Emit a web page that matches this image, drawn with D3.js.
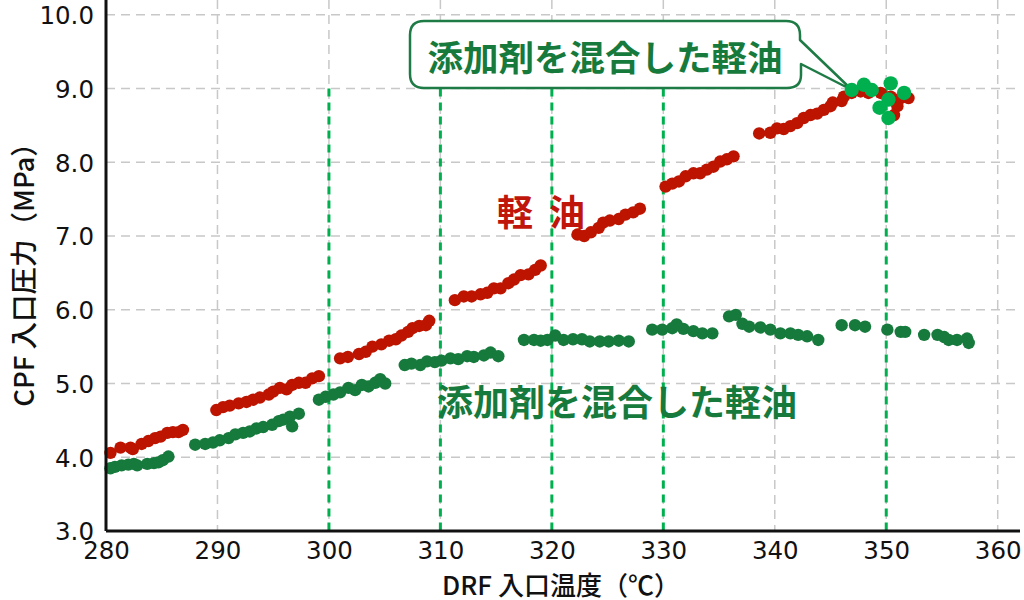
<!DOCTYPE html>
<html>
<head>
<meta charset="utf-8">
<script src="https://cdn.jsdelivr.net/npm/d3@7"></script>
<style>
  body { margin: 0; background: #fff; }
  svg { display: block; font-family: "Noto Sans CJK JP", "Noto Sans", sans-serif; }
</style>
</head>
<body>
<svg id="chart" width="1024" height="600"></svg>
<script>
'use strict'

// 軽油 (light oil)
const oilTemp = [
  280.4, 281.3, 282.2, 282.4, 283.2, 283.8, 284.4, 284.9, 285.5, 286.0, 286.5, 286.9,
  289.9, 290.5, 291.1, 291.9, 292.6, 293.2, 293.8, 294.6, 295.0, 295.6, 296.2, 296.7, 297.3, 297.9, 298.5, 299.1,
  301.0, 301.7, 302.7, 303.3, 303.9, 304.7, 305.4, 306.0, 306.5, 307.1, 307.5, 308.1, 308.7, 309.0,
  311.3, 312.1, 312.8, 313.6, 314.2, 314.8, 315.4, 316.1, 316.6, 317.2, 317.9, 318.5, 319.0,
  322.3, 322.9, 323.5, 324.2, 324.6, 325.2, 326.0, 326.6, 327.3, 327.9,
  330.2, 330.8, 331.4, 332.0, 332.7, 333.3, 333.9, 334.5, 335.1, 335.7, 336.3,
  338.6, 339.6, 340.2, 340.8, 341.4, 342.0, 342.6, 343.2, 343.8, 344.4, 345.0, 345.2, 346.0, 346.2,
  346.9, 347.7, 348.4, 349.5, 350.4, 351.3, 352.0, 351.0, 350.7
]
const oilPressure = [
  4.06, 4.13, 4.13, 4.11, 4.18, 4.22, 4.26, 4.28, 4.33, 4.34, 4.34, 4.37,
  4.64, 4.68, 4.70, 4.73, 4.75, 4.78, 4.81, 4.85, 4.89, 4.94, 4.92, 4.98, 5.01, 5.01, 5.07, 5.10,
  5.34, 5.36, 5.40, 5.43, 5.50, 5.53, 5.58, 5.60, 5.65, 5.70, 5.75, 5.78, 5.79, 5.85,
  6.13, 6.18, 6.18, 6.21, 6.23, 6.29, 6.29, 6.36, 6.41, 6.47, 6.48, 6.54, 6.60,
  7.02, 7.00, 7.05, 7.11, 7.18, 7.21, 7.23, 7.29, 7.32, 7.37,
  7.67, 7.71, 7.74, 7.81, 7.85, 7.85, 7.90, 7.94, 8.01, 8.04, 8.08,
  8.39, 8.40, 8.46, 8.45, 8.49, 8.53, 8.60, 8.64, 8.66, 8.71, 8.76, 8.81, 8.83, 8.89,
  8.94, 8.96, 8.94, 8.94, 8.89, 8.87, 8.87, 8.76, 8.64
]

// 添加剤を混合した軽油 (oil with additive)
const mixTemp = [
  280.4, 280.8, 281.4, 282.0, 282.5, 282.8, 283.7, 284.3, 284.7, 285.1, 285.6,
  288.0, 288.9, 289.6, 290.2, 291.0, 291.6, 292.3, 292.9, 293.5, 294.1, 294.9, 295.5, 295.9, 296.5, 297.3, 296.7,
  299.1, 299.7, 300.4, 301.0, 301.75, 302.35, 302.95, 303.55, 304.15, 304.6, 305.05,
  306.8, 307.4, 308.2, 308.8, 309.5, 310.1, 310.9, 311.6, 312.4, 313.0, 313.9, 314.5, 315.2,
  317.5, 318.4, 319.0, 319.6, 320.3, 321.05, 321.9, 322.7, 323.4, 324.3, 325.1, 326.0, 326.9,
  329.0, 329.9, 330.8, 331.2, 331.8, 332.7, 333.5, 334.4,
  335.9, 336.5, 337.1, 337.7, 338.7, 339.6, 340.5, 341.4, 342.1, 342.9, 343.9,
  346.0, 347.2, 348.1, 350.1, 351.3, 351.7, 353.4, 354.6, 355.2, 355.6, 356.35, 357.25, 357.4
]
const mixPressure = [
  3.85, 3.87, 3.89, 3.90, 3.91, 3.89, 3.91, 3.92, 3.93, 3.96, 4.01,
  4.17, 4.18, 4.20, 4.23, 4.26, 4.31, 4.33, 4.35, 4.39, 4.41, 4.44, 4.49, 4.51, 4.55, 4.59, 4.42,
  4.78, 4.82, 4.85, 4.88, 4.94, 4.91, 4.98, 4.96, 5.01, 5.06, 5.00,
  5.25, 5.27, 5.25, 5.30, 5.29, 5.31, 5.34, 5.33, 5.37, 5.36, 5.38, 5.42, 5.37,
  5.59, 5.59, 5.58, 5.59, 5.65, 5.59, 5.60, 5.60, 5.57, 5.57, 5.57, 5.58, 5.57,
  5.73, 5.73, 5.75, 5.80, 5.74, 5.71, 5.68, 5.68,
  5.91, 5.93, 5.81, 5.77, 5.76, 5.73, 5.68, 5.68, 5.66, 5.64, 5.59,
  5.79, 5.79, 5.77, 5.73, 5.70, 5.70, 5.66, 5.66, 5.63, 5.59, 5.59, 5.61, 5.55
]

// highlighted group near 350 ℃
const hiTemp = [346.9, 348.0, 348.7, 350.4, 351.6, 350.2, 349.4, 350.2]
const hiPressure = [8.98, 9.05, 8.98, 9.07, 8.94, 8.85, 8.74, 8.60]

const xTicks = [280, 290, 300, 310, 320, 330, 340, 350, 360]
const yTicks = [3, 4, 5, 6, 7, 8, 9, 10]
const markTemps = [300, 310, 320, 330, 350]   // green dashed markers
const markTop = 9.0

const svg = d3.select('#chart')
const x = d3.scaleLinear().domain([280, 362]).range([106, 1020])
const y = d3.scaleLinear().domain([3, 10.2]).range([531, 0])

const RED = '#bd1400'
const GREEN = '#177a3d'
const LIME = '#00b04f'

// grid
const grid = svg.append('g')
  .attr('stroke', '#c8c8c8')
  .attr('stroke-width', 1.5)
  .attr('stroke-dasharray', '9,6')
grid.selectAll('.gx').data(xTicks.slice(1))
  .join('line')
  .attr('x1', d => x(d)).attr('x2', d => x(d))
  .attr('y1', 0).attr('y2', y(3))
grid.selectAll('.gy').data(yTicks.slice(1))
  .join('line')
  .attr('x1', x(280)).attr('x2', x(362))
  .attr('y1', d => y(d)).attr('y2', d => y(d))

// green dashed markers
svg.append('g')
  .attr('stroke', LIME)
  .attr('stroke-width', 3)
  .attr('stroke-dasharray', '8,6')
  .selectAll('line').data(markTemps)
  .join('line')
  .attr('x1', d => x(d)).attr('x2', d => x(d))
  .attr('y1', y(markTop)).attr('y2', y(3))

// points
const zip = (a, b) => a.map((v, i) => [v, b[i]])
svg.append('g').attr('fill', RED)
  .selectAll('circle').data(zip(oilTemp, oilPressure))
  .join('circle')
  .attr('cx', d => x(d[0])).attr('cy', d => y(d[1])).attr('r', 6.2)
svg.append('g').attr('fill', GREEN)
  .selectAll('circle').data(zip(mixTemp, mixPressure))
  .join('circle')
  .attr('cx', d => x(d[0])).attr('cy', d => y(d[1])).attr('r', 6.2)

// axes
const fmt = d3.format('.1f')
const yAxis = svg.append('g')
  .attr('transform', `translate(${x(280)},0)`)
  .call(d3.axisLeft(y).tickValues(yTicks).tickFormat(fmt).tickSize(0).tickPadding(12))
const xAxis = svg.append('g')
  .attr('transform', `translate(0,${y(3)})`)
  .call(d3.axisBottom(x).tickValues(xTicks).tickSize(0).tickPadding(11))
for (const a of [xAxis, yAxis]) {
  a.select('.domain').attr('stroke', '#111').attr('stroke-width', 3)
  a.selectAll('text').attr('font-size', 24.5).attr('fill', '#111')
    .attr('font-family', '"DejaVu Sans", sans-serif')
}
yAxis.selectAll('text').attr('dy', '0.36em')
yAxis.select('.domain').attr('d', `M0,0V${y(3)}`)
xAxis.select('.domain').attr('d', `M${x(280)},0H${x(362)}`)

// callout
const callout = svg.append('g')
callout.append('path')
  .attr('d', 'M424,21 H786 Q800,21 800,35 V40 L852,90 L801,64 V75 Q801,88 787,88 H424 Q410,88 410,74 V35 Q410,21 424,21 Z')
  .attr('fill', '#fff')
  .attr('stroke', '#1e7b45')
  .attr('stroke-width', 2.5)
  .attr('stroke-linejoin', 'round')

// highlighted points on top
svg.append('g').attr('fill', LIME)
  .selectAll('circle').data(zip(hiTemp, hiPressure))
  .join('circle')
  .attr('cx', d => x(d[0])).attr('cy', d => y(d[1])).attr('r', 7.2)

callout.append('text')
  .attr('x', 605).attr('y', 55)
  .attr('text-anchor', 'middle').attr('dominant-baseline', 'central')
  .attr('font-size', 35.5).attr('font-weight', 700).attr('fill', GREEN)
  .text('添加剤を混合した軽油')

// series labels
const oilLabel = svg.append('g')
  .attr('font-size', 36).attr('font-weight', 700).attr('fill', '#c0150a')
  .attr('text-anchor', 'middle')
oilLabel.append('text').attr('x', 515).attr('y', 210).attr('dominant-baseline', 'central').text('軽')
oilLabel.append('text').attr('x', 567).attr('y', 210).attr('dominant-baseline', 'central').text('油')
svg.append('text')
  .attr('x', 617).attr('y', 400)
  .attr('text-anchor', 'middle').attr('dominant-baseline', 'central')
  .attr('font-size', 36).attr('font-weight', 700).attr('fill', GREEN)
  .text('添加剤を混合した軽油')

// axis titles
svg.append('text')
  .attr('x', 561).attr('y', 583)
  .attr('text-anchor', 'middle').attr('dominant-baseline', 'central')
  .attr('font-size', 26).attr('font-weight', 500).attr('fill', '#111')
  .text('DRF 入口温度（℃）')
svg.append('text')
  .attr('transform', 'translate(22,268) rotate(-90)')
  .attr('text-anchor', 'middle').attr('dominant-baseline', 'central')
  .attr('font-size', 27.5).attr('font-weight', 500).attr('fill', '#111')
  .text('CPF 入口圧力（MPa）')
</script>
</body>
</html>
